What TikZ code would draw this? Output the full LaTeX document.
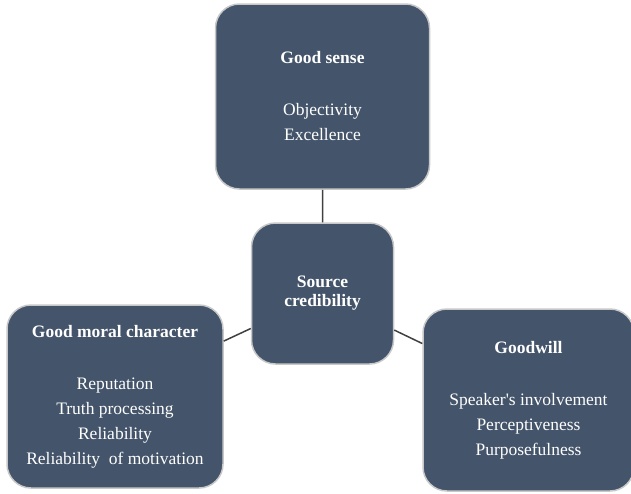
\documentclass[tikz,border=0pt]{standalone}
\usepackage{fontspec}
\setmainfont{Liberation Serif}
\usepackage{tikz}
\definecolor{slate}{RGB}{68,84,106}
\definecolor{rimgray}{RGB}{200,200,200}
\definecolor{linkgray}{RGB}{64,64,64}

\begin{document}
\begin{tikzpicture}[x=1pt,y=-1pt]

\useasboundingbox (0,0) rectangle (631,493);

\tikzstyle{every node}=[draw=rimgray,line width=1.5pt,fill=slate,text=white,rounded corners=24pt,align=center,inner sep=0pt,anchor=center,font=\fontsize{17.5}{25}\selectfont];

% The four boxes
\node[minimum width=214pt,minimum height=185pt] (gs) at (322.5,96.5)
  {\textbf{Good sense}\\[27pt]Objectivity\\Excellence};
\node[minimum width=142pt,minimum height=141pt,font=\bfseries\fontsize{17.5}{19}\selectfont] (sc) at (322.5,293.5)
  {Source\\credibility};
\node[minimum width=216pt,minimum height=183pt] (gmc) at (115,396.5)
  {\textbf{Good moral character}\\[27pt]Reputation\\Truth processing\\Reliability\\Reliability\ \ of motivation};
\node[minimum width=211pt,minimum height=182pt] (gw) at (528.5,400)
  {\textbf{Goodwill}\\[27pt]Speaker\textquotesingle s involvement\\Perceptiveness\\Purposefulness};

% Links between the boxes
\draw[linkgray,line width=1.5pt] (gs.south) -- (sc.north)
(sc.206) -- (gmc.27)
(sc.-27) -- (gw.152);

\end{tikzpicture}
\end{document}
